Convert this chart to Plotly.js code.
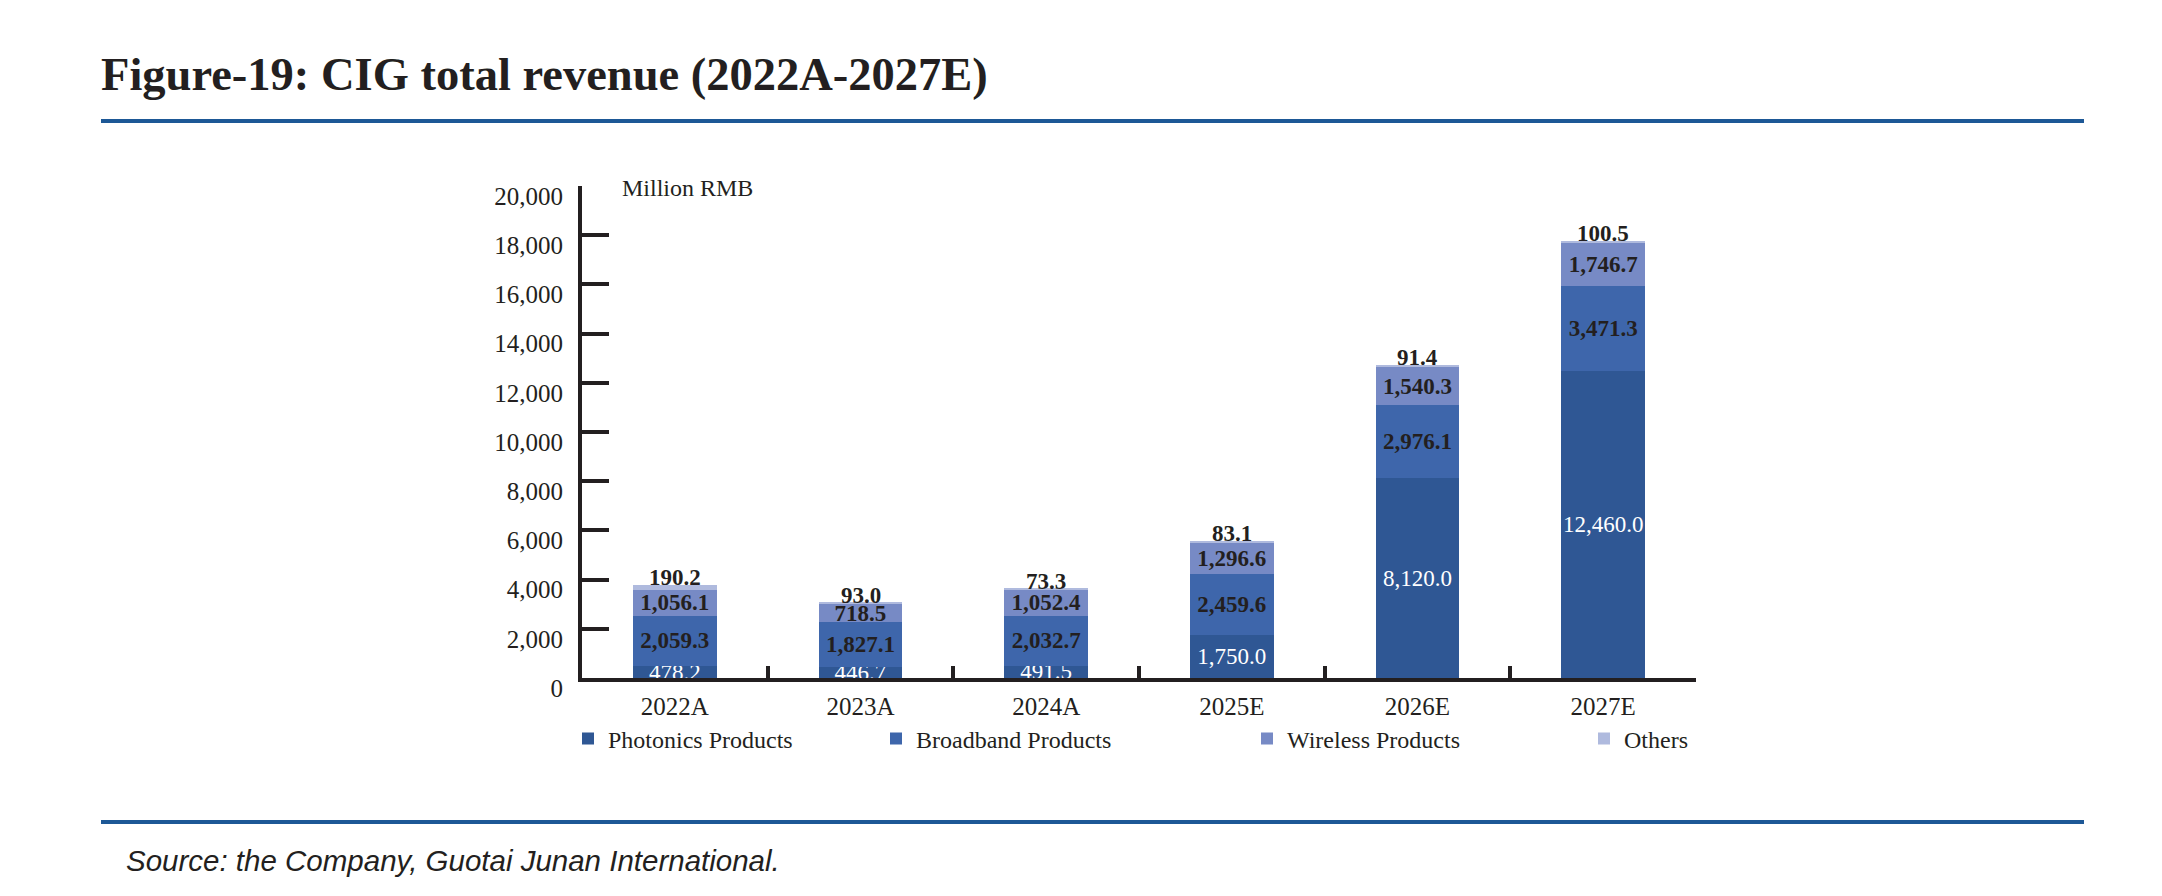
<!DOCTYPE html>
<html>
<head>
<meta charset="utf-8">
<script src="https://cdn.plot.ly/plotly-3.0.1.min.js"></script>
<style>html,body{margin:0;padding:0;background:#fff;}#chart{width:2162px;height:896px;}</style>
</head>
<body>
<div id="chart"></div>
<script>
const categories = ['2022A', '2023A', '2024A', '2025E', '2026E', '2027E'];
const photonics = [478.2, 446.7, 491.5, 1750.0, 8120.0, 12460.0];
const broadband = [2059.3, 1827.1, 2032.7, 2459.6, 2976.1, 3471.3];
const wireless = [1056.1, 718.5, 1052.4, 1296.6, 1540.3, 1746.7];
const others = [190.2, 93.0, 73.3, 83.1, 91.4, 100.5];
const seriesNames = ['Photonics Products', 'Broadband Products', 'Wireless Products', 'Others'];
const yTickVals = [0, 2000, 4000, 6000, 8000, 10000, 12000, 14000, 16000, 18000, 20000];

const colors = ['#2F5794', '#3E66AB', '#778AC5', '#AFBADE'];
const SERIF = '"Liberation Serif", "Times New Roman", serif';
const INK = '#231F20';

// plot area in pixels
const L = 582, R = 1696, T = 186, B = 678, W = 2162, H = 896;
const px = x => (x - L) / (R - L);
const py = y => (B - y) / (B - T);

const series = [photonics, broadband, wireless, others];
const data = series.map((vals, i) => ({
  type: 'bar',
  name: seriesNames[i],
  x: categories,
  y: vals,
  marker: {color: colors[i], line: {width: 0}},
  texttemplate: i === 3 ? '' : '%{y:,.1f}',
  textposition: i === 3 ? 'none' : 'inside',
  insidetextanchor: 'middle',
  constraintext: 'none',
  cliponaxis: false,
  textangle: 0,
  textfont: i === 0
    ? {family: SERIF, size: 23, color: '#FFFFFF'}
    : {family: SERIF, size: 23, color: INK, weight: 'bold'},
  legend: i === 0 ? 'legend' : 'legend' + (i + 1),
  hoverinfo: 'skip'
}));

// "Others" value labels sit on top of each stack
const fmt1 = v => v.toLocaleString('en-US', {minimumFractionDigits: 1, maximumFractionDigits: 1});
const othersLabels = categories.map((c, k) => ({
  text: fmt1(others[k]),
  xref: 'x', yref: 'y',
  x: c, y: series.reduce((s, arr) => s + arr[k], 0),
  xanchor: 'center', yanchor: 'middle', yshift: 7,
  showarrow: false,
  font: {family: SERIF, size: 23, color: INK, weight: 'bold'}
}));

const legendX = [584, 892, 1263, 1600];
function legendCfg(i) {
  return {
    x: px(legendX[i] - 16), xanchor: 'left',
    y: py(739), yanchor: 'middle',
    orientation: 'h',
    bgcolor: 'rgba(0,0,0,0)',
    borderwidth: 0,
    itemwidth: 30,
    font: {family: SERIF, size: 24, color: INK}
  };
}

const layout = {
  width: W, height: H,
  margin: {l: L, r: W - R, t: T, b: H - B, pad: 0},
  paper_bgcolor: '#FFFFFF',
  plot_bgcolor: '#FFFFFF',
  barmode: 'stack',
  bargap: 0.55,
  showlegend: true,
  legend: legendCfg(0),
  legend2: legendCfg(1),
  legend3: legendCfg(2),
  legend4: legendCfg(3),
  title: {
    text: 'Figure-19: CIG total revenue (2022A-2027E)',
    font: {family: SERIF, size: 46.5, color: INK, weight: 'bold'},
    x: 101 / W, xanchor: 'left', xref: 'container',
    y: 1 - 74 / H, yanchor: 'middle', yref: 'container'
  },
  xaxis: {
    type: 'category',
    showgrid: false, zeroline: false,
    showline: true, linecolor: INK, linewidth: 4,
    ticks: 'inside', tickson: 'boundaries', ticklen: 12, tickwidth: 4, tickcolor: INK,
    tickfont: {family: SERIF, size: 25, color: INK},
    ticklabelstandoff: 3,
    fixedrange: true
  },
  yaxis: {
    range: [0, 20000],
    tickvals: yTickVals,
    tickformat: ',d',
    showgrid: false, zeroline: false,
    showline: true, linecolor: INK, linewidth: 4,
    ticks: 'inside', ticklen: 27, tickwidth: 4, tickcolor: INK,
    tickfont: {family: SERIF, size: 25, color: INK},
    ticklabelstandoff: 10,
    ticklabelshift: 10,
    fixedrange: true
  },
  annotations: [
    {
      text: 'Million RMB', xref: 'paper', yref: 'paper',
      x: px(620), y: py(188), xanchor: 'left', yanchor: 'middle',
      showarrow: false, font: {family: SERIF, size: 24, color: INK}
    },
    {
      text: 'Source: the Company, Guotai Junan International.', xref: 'paper', yref: 'paper',
      x: px(124), y: py(860), xanchor: 'left', yanchor: 'middle',
      showarrow: false, font: {family: '"Liberation Sans", Arial, sans-serif', size: 29.5, color: INK, style: 'italic'}
    }
  ].concat(othersLabels),
  shapes: [
    {type: 'line', xref: 'paper', yref: 'paper', x0: px(101), x1: px(2084), y0: py(121), y1: py(121), line: {color: '#1D5896', width: 4}},
    {type: 'line', xref: 'paper', yref: 'paper', x0: px(101), x1: px(2084), y0: py(822), y1: py(822), line: {color: '#1D5896', width: 4}}
  ]
};

Plotly.newPlot('chart', data, layout, {staticPlot: true, displayModeBar: false});
</script>
</body>
</html>
